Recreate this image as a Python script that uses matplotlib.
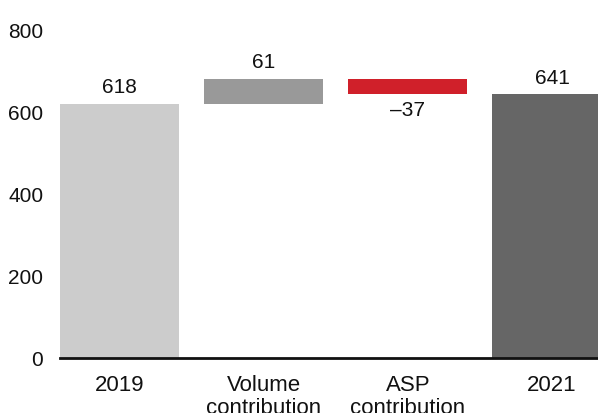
import numpy as np
import matplotlib.pyplot as plt

plt.rcParams['font.family'] = ['Liberation Sans', 'DejaVu Sans']

categories = ['2019', 'Volume\ncontribution', 'ASP\ncontribution', '2021']
changes = [618, 61, -37, 641]
labels = ['618', '61', '\u201337', '641']
colors = ['#cccccc', '#999999', '#d0202a', '#666666']

# waterfall bottoms: totals sit on 0, deltas float on the running total
bottoms = [0, changes[0], changes[0] + changes[1], 0]

fig = plt.figure(figsize=(5.98, 4.14), dpi=100)
ax = fig.add_axes([60/598, 1 - 359/414, 1 - 60/598, (359 - 30)/414])

x = np.arange(len(categories))
ax.bar(x, changes, bottom=bottoms, width=0.826, color=colors)

for xi, b, h, lab in zip(x, bottoms, changes, labels):
    if h >= 0:
        ax.annotate(lab, (xi, b + h), xytext=(0, 5.5), textcoords='offset points',
                    ha='center', va='bottom', fontsize=15, color='#111111')
    else:
        ax.annotate(lab, (xi, b + h), xytext=(0, -4.5), textcoords='offset points',
                    ha='center', va='top', fontsize=15, color='#111111')

ax.set_xlim(-0.413, 3.319)
ax.set_ylim(0, 800)
ax.set_yticks([0, 200, 400, 600, 800])
ax.set_xticks(x)
ax.set_xticklabels(categories, linespacing=1.15)
ax.tick_params(axis='both', length=0, labelsize=15, colors='#111111')
ax.tick_params(axis='x', pad=11.5, labelsize=16)
ax.tick_params(axis='y', pad=12)

for s in ['top', 'right', 'left']:
    ax.spines[s].set_visible(False)
ax.spines['bottom'].set_linewidth(2)
ax.spines['bottom'].set_color('#111111')

fig.savefig('out.png', dpi=100)
